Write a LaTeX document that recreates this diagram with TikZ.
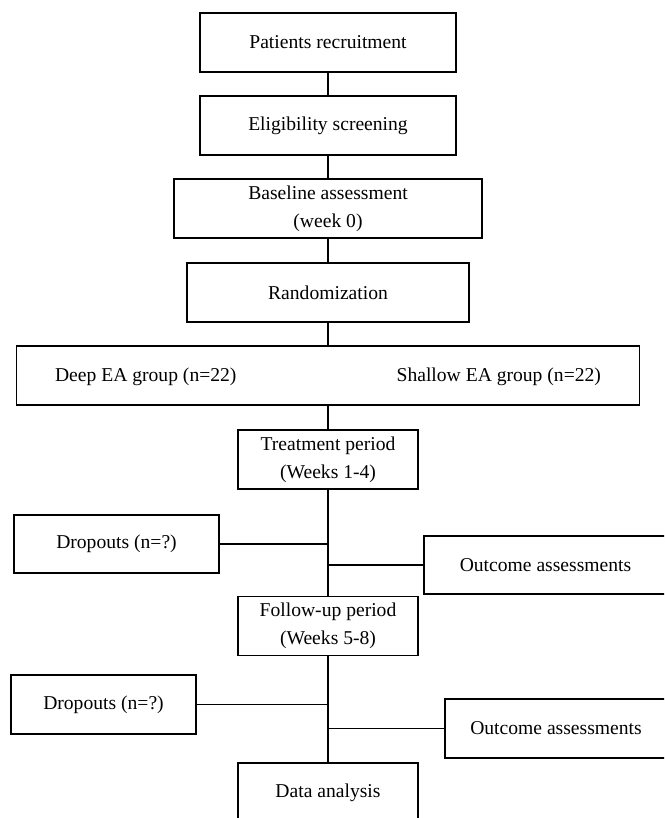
\documentclass[tikz,border=0pt]{standalone}
\usepackage{fontspec}
\setmainfont{Liberation Serif}
\usepackage{tikz}
\usetikzlibrary{positioning, calc}

\begin{document}
\begin{tikzpicture}[x=0.5pt, y=-0.5pt,
    every node/.style={font=\fontsize{9.8}{14}\selectfont},
    box/.style={draw, line width=0.8pt, inner sep=0pt, align=center,
      minimum height=29.5pt},
    link/.style={line width=0.8pt}]

  % Frame of the page (boxes on the right and bottom run off the edge)
  \clip (0,0) rectangle (664,818);

  % --- Main column ---------------------------------------------------
  \node[box, minimum width=128pt] (recruit)  at (328,42.5)  {Patients recruitment};
  \node[box, minimum width=128pt] (screen)   at (328,125.5) {Eligibility screening};
  \node[box, minimum width=154pt] (baseline) at (328,208.5) {Baseline assessment\\(week 0)};
  \node[box, minimum width=141pt] (random)   at (328,292.5) {Randomization};

  % Groups box with two labels
  \node[box, minimum width=311.5pt] (groups) at (328,375.5) {};
  \node[anchor=west] (deep)    at (48,377)  {Deep EA group (n=22)};
  \node[anchor=east] (shallow) at (608,377) {Shallow EA group (n=22)};

  \node[box, minimum width=90pt] (treat)    at (328,459.5) {Treatment period\\(Weeks 1-4)};
  \node[box, minimum width=90pt] (follow)   at (328,626)   {Follow-up period\\(Weeks 5-8)};
  \node[box, minimum width=90pt, minimum height=30pt] (analysis) at (328,793) {Data analysis};

  % --- Side boxes ----------------------------------------------------
  \node[box, minimum width=102.5pt, minimum height=29pt] (drop1) at (116.5,544) {Dropouts (n=?)};
  \node[box, minimum width=121.5pt, minimum height=29pt] (outc1) at (545.5,565) {Outcome assessments};
  \node[box, minimum width=92.5pt]  (drop2) at (103.5,704.5) {Dropouts (n=?)};
  \node[box, minimum width=111pt]   (outc2) at (556,728.5)   {Outcome assessments};

  % --- Connectors ----------------------------------------------------
  \foreach \a/\b in {recruit/screen, screen/baseline, baseline/random,
                     random/groups, groups/treat, treat/follow, follow/analysis}
    \draw[link] (\a.south) -- (\b.north);

  % side branches join the trunk
  \foreach \s/\t in {drop1/treat, outc1/treat, drop2/follow, outc2/follow} {
    \coordinate (\s-j) at (\s -| \t);
    \draw[link] (\s) -- (\s-j);
  }
\end{tikzpicture}
\end{document}
